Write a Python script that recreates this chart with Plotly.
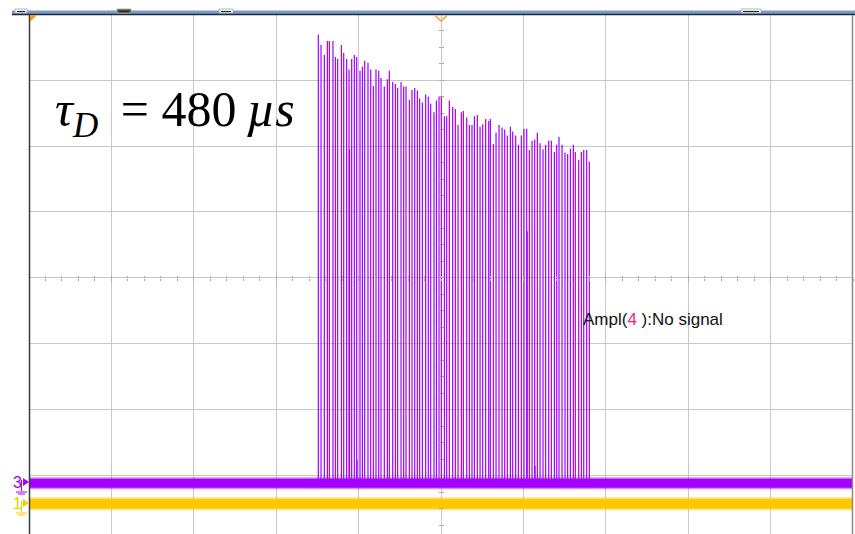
import plotly.graph_objects as go

# ---- data (screen units: time in horizontal divisions 0..10, amplitude in vertical divisions, centre = 0)
pulse_t = [3.511, 3.544, 3.584, 3.621, 3.645, 3.689, 3.718, 3.746, 3.791, 3.819,
           3.855, 3.884, 3.916, 3.948, 3.977, 4.017, 4.046, 4.074, 4.114, 4.147,
           4.179, 4.211, 4.244, 4.272, 4.312, 4.349, 4.373, 4.414, 4.446, 4.474,
           4.515, 4.547, 4.575, 4.616, 4.648, 4.681, 4.713, 4.741, 4.774, 4.814,
           4.846, 4.875, 4.915, 4.944, 4.976, 5.004, 5.041, 5.069, 5.101, 5.142,
           5.174, 5.207, 5.247, 5.271, 5.312, 5.344, 5.376, 5.405, 5.441, 5.474,
           5.506, 5.542, 5.579, 5.599, 5.635, 5.668, 5.704, 5.741, 5.773, 5.805,
           5.842, 5.870, 5.906, 5.939, 5.975, 6.007, 6.040, 6.072, 6.105, 6.137,
           6.169, 6.202, 6.238, 6.270, 6.307, 6.339, 6.376, 6.404, 6.432, 6.469,
           6.505, 6.537, 6.570, 6.606, 6.630, 6.671, 6.703, 6.732, 6.768, 6.800]
pulse_amp = [3.69, 3.53, 3.38, 3.59, 3.59, 3.59, 3.35, 3.32, 3.53, 3.41,
             3.32, 3.16, 3.32, 3.38, 3.35, 3.14, 3.20, 3.29, 3.26, 3.16,
             2.91, 3.16, 3.14, 3.03, 2.90, 3.01, 3.14, 2.97, 2.94, 2.88,
             2.97, 2.90, 2.90, 2.70, 2.85, 2.88, 2.84, 2.72, 2.66, 2.78,
             2.75, 2.64, 2.51, 2.69, 2.75, 2.75, 2.45, 2.45, 2.69, 2.59,
             2.56, 2.32, 2.51, 2.53, 2.43, 2.32, 2.32, 2.45, 2.47, 2.29,
             2.33, 2.41, 2.38, 2.41, 2.03, 2.20, 2.32, 2.28, 2.25, 2.16,
             2.29, 2.22, 2.16, 2.02, 2.16, 2.26, 2.26, 1.94, 2.08, 2.10,
             2.20, 2.04, 1.95, 2.02, 2.08, 2.08, 1.91, 2.02, 2.14, 2.02,
             1.90, 1.88, 1.96, 2.02, 1.91, 1.79, 1.91, 1.94, 1.94, 1.76]
extra_t = [3.890, 6.046]
extra_amp = [1.95, 0.71]
spike_t = [3.981, 6.141]
spike_amp = [-2.76, -2.85]
ch3_level = -3.11
ch1_level = -3.42
x_range = [0, 10]
y_range = [-3.879, 4]

PURPLE = '#A500FF'
YELLOW = '#FFC800'
GRID = '#C8C8C8'

# pixel -> paper helpers for screen decorations (plot area 29..853 x 14..534)
W, H = 855, 534
L, R, T, B = 29, 2, 14, 0
PW, PH = W - L - R, H - T - B
def px(x): return (x - L) / PW
def py(y): return (H - B - y) / PH

fig = go.Figure()

# channel 1 (yellow) baseline noise band
fig.add_trace(go.Scatter(x=x_range, y=[ch1_level, ch1_level], mode='lines',
                         line=dict(color=YELLOW, width=13), opacity=0.45,
                         hoverinfo='skip', showlegend=False))
fig.add_trace(go.Scatter(x=x_range, y=[ch1_level, ch1_level], mode='lines',
                         line=dict(color=YELLOW, width=10),
                         hoverinfo='skip', showlegend=False))
# channel 3 (purple) baseline noise band
fig.add_trace(go.Scatter(x=x_range, y=[ch3_level, ch3_level], mode='lines',
                         line=dict(color=PURPLE, width=12), opacity=0.45,
                         hoverinfo='skip', showlegend=False))
fig.add_trace(go.Scatter(x=x_range, y=[ch3_level, ch3_level], mode='lines',
                         line=dict(color=PURPLE, width=9),
                         hoverinfo='skip', showlegend=False))

# pulse train
xs, ys = [], []
for t, a in zip(pulse_t + extra_t + spike_t, pulse_amp + extra_amp + spike_amp):
    xs += [t, t, None]
    ys += [ch3_level, a, None]
fig.add_trace(go.Scatter(x=xs, y=ys, mode='lines', line=dict(color='#A000FF', width=1.2),
                         hoverinfo='skip', showlegend=False))

# dummy traces for the centre graticule tick axes
for xa, ya in (('x2', 'y2'), ('x3', 'y3')):
    fig.add_trace(go.Scatter(x=[None], y=[None], xaxis=xa, yaxis=ya, showlegend=False, hoverinfo='skip'))

centre_pos = (0 - y_range[0]) / (y_range[1] - y_range[0])
common = dict(showgrid=False, zeroline=False, showline=False, showticklabels=False,
              tickcolor='#A8A8A8', tickwidth=1, ticklen=2)

fig.update_layout(
    width=W, height=H,
    margin=dict(l=L, r=R, t=T, b=B),
    plot_bgcolor='white', paper_bgcolor='white',
    xaxis=dict(range=x_range, dtick=1, tick0=0, showgrid=True, gridcolor=GRID, gridwidth=1,
               zeroline=False, showline=False, showticklabels=False, ticks=''),
    yaxis=dict(range=y_range, dtick=1, tick0=0, showgrid=True, gridcolor=GRID, gridwidth=1,
               zeroline=False, showline=False, showticklabels=False, ticks=''),
    xaxis2=dict(overlaying='x', range=x_range, anchor='free', position=centre_pos,
                ticks='outside', dtick=0.2, tick0=0, **common),
    yaxis2=dict(overlaying='y', range=y_range, anchor='free', position=0.5,
                ticks='outside', dtick=0.25, tick0=0, **common),
    xaxis3=dict(overlaying='x', range=x_range, anchor='free', position=centre_pos,
                ticks='inside', dtick=0.2, tick0=0, **common),
    yaxis3=dict(overlaying='y', range=y_range, anchor='free', position=0.5,
                ticks='inside', dtick=0.25, tick0=0, **common),
    showlegend=False,
)

shapes = []
# top status bar
shapes.append(dict(type='rect', xref='paper', yref='paper', x0=px(12), x1=px(855),
                   y0=py(14), y1=py(10.5), fillcolor='#7B9BCB', line=dict(width=0)))
shapes.append(dict(type='line', xref='paper', yref='paper', x0=px(12), x1=px(855),
                   y0=py(14.5), y1=py(14.5), line=dict(color='#1E2838', width=1.5)))
for x0, x1, fill in ((15, 27, 'white'), (117, 131, '#5E5432'), (219, 233, 'white'), (741, 761, 'white')):
    shapes.append(dict(type='rect', xref='paper', yref='paper', x0=px(x0), x1=px(x1),
                       y0=py(13), y1=py(9), fillcolor=fill, line=dict(color='#9AA6B8', width=0.8)))
    shapes.append(dict(type='line', xref='paper', yref='paper', x0=px(x0 + 2), x1=px(x1 - 2),
                       y0=py(11.5), y1=py(11.5), line=dict(color='#202020', width=1.2)))
# borders
shapes.append(dict(type='line', xref='paper', yref='paper', x0=px(29.5), x1=px(29.5), y0=0, y1=py(15),
                   line=dict(color='#3A3A3A', width=1.5)))
shapes.append(dict(type='line', xref='paper', yref='paper', x0=px(852.5), x1=px(852.5), y0=0, y1=py(15),
                   line=dict(color='#8A8A8A', width=1.5)))
# trigger markers
shapes.append(dict(type='path', xref='paper', yref='paper',
                   path=f'M {px(30)} {py(15)} L {px(37)} {py(15)} L {px(30)} {py(22)} Z',
                   fillcolor='#F39A1E', line=dict(width=0)))
shapes.append(dict(type='path', xref='paper', yref='paper',
                   path=f'M {px(435)} {py(15.5)} L {px(441)} {py(21)} L {px(447)} {py(15.5)}',
                   line=dict(color='#F5A033', width=1.5)))
# channel markers on the left
for yc, col in ((482, PURPLE), (503, YELLOW)):
    shapes.append(dict(type='path', xref='paper', yref='paper',
                       path=f'M {px(23)} {py(yc-4)} L {px(29)} {py(yc)} L {px(23)} {py(yc+4)} Z',
                       fillcolor=col, line=dict(width=0)))
    shapes.append(dict(type='line', xref='paper', yref='paper', x0=px(21.5), x1=px(21.5),
                       y0=py(yc - 2), y1=py(yc + 9), line=dict(color=col, width=1)))
    shapes.append(dict(type='line', xref='paper', yref='paper', x0=px(16), x1=px(27),
                       y0=py(yc + 10), y1=py(yc + 10), line=dict(color=col, width=1)))
    shapes.append(dict(type='line', xref='paper', yref='paper', x0=px(18), x1=px(25),
                       y0=py(yc + 12), y1=py(yc + 12), line=dict(color=col, width=1)))
fig.update_layout(shapes=shapes)

annotations = [
    dict(xref='paper', yref='paper', x=px(53), y=py(113), xanchor='left', yanchor='middle',
         text='<i>τ</i><sub><i>D</i></sub>\u2009 = 480\u2009<i>µs</i>', showarrow=False,
         font=dict(family='Liberation Serif, Times New Roman, serif', size=50, color='black')),
    dict(xref='paper', yref='paper', x=px(581), y=py(319), xanchor='left', yanchor='middle',
         text="Ampl(<span style='color:#F3257F'>4</span> ):No signal", showarrow=False,
         font=dict(family='Liberation Sans, Arial, sans-serif', size=17, color='#111111')),
    dict(xref='paper', yref='paper', x=px(17), y=py(482), xanchor='center', yanchor='middle',
         text='3', showarrow=False, font=dict(family='Liberation Sans, Arial', size=16, color=PURPLE)),
    dict(xref='paper', yref='paper', x=px(17.5), y=py(503), xanchor='center', yanchor='middle',
         text='1', showarrow=False, font=dict(family='Liberation Sans, Arial', size=16, color=YELLOW)),
]
fig.update_layout(annotations=annotations)

fig.write_html('out.html', config={'displayModeBar': False},
               post_script="document.body.style.margin='0px';")
